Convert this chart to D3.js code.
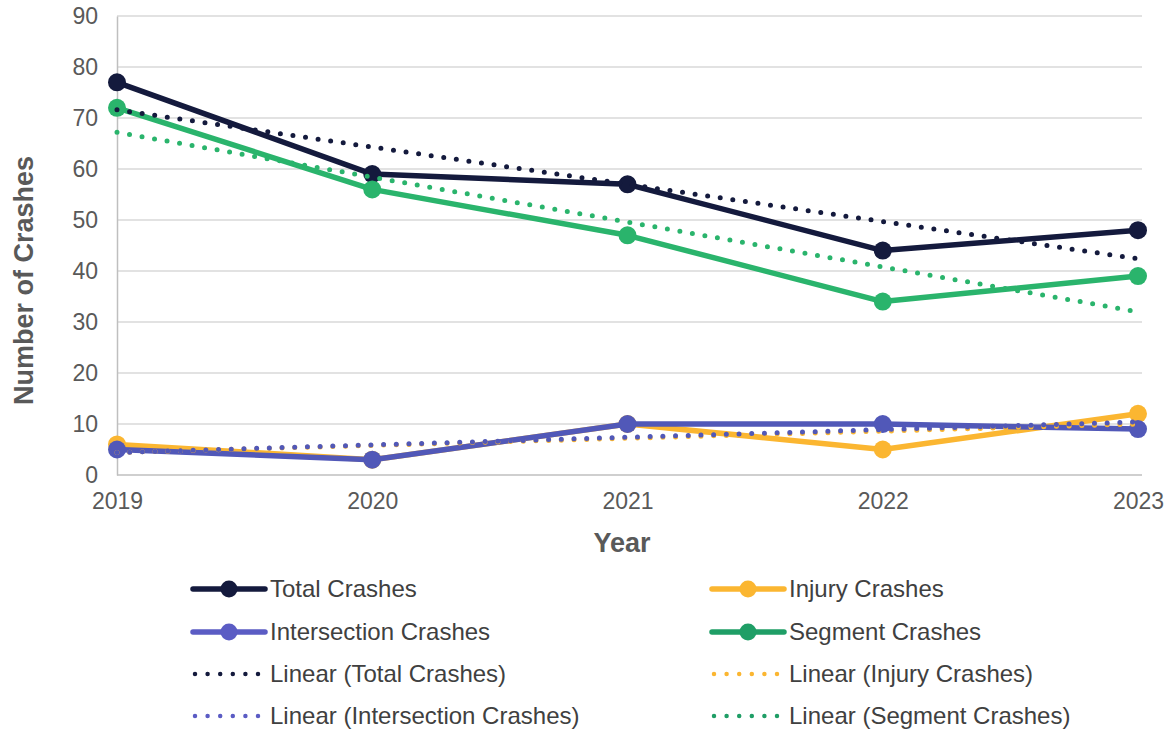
<!DOCTYPE html>
<html>
<head>
<meta charset="utf-8">
<script src="https://cdn.jsdelivr.net/npm/d3@7"></script>
<style>
    body { margin: 0; background: #fff; }
    svg { font-family: "Liberation Sans", Arial, sans-serif; }
</style>
</head>
<body>
<svg id="chart"></svg>
<script>
// Data
const years = [2019, 2020, 2021, 2022, 2023];
const totalCrashes = [77, 59, 57, 44, 48];
const injuryCrashes = [6, 3, 10, 5, 12];
const intersectionCrashes = [5, 3, 10, 10, 9];
const segmentCrashes = [72, 56, 47, 34, 39];
const yTicks = [0, 10, 20, 30, 40, 50, 60, 70, 80, 90];

const seriesNames = ["Total Crashes", "Injury Crashes", "Intersection Crashes", "Segment Crashes"];
const seriesValues = [totalCrashes, injuryCrashes, intersectionCrashes, segmentCrashes];
const seriesColours = ["#141a3d", "#fbb631", "#5158b8", "#2ab46c"];
const legendColours = ["#141a3d", "#fbb631", "#5b5cc4", "#1f9e66"];

const series = seriesNames.map((name, i) => ({name, values: seriesValues[i], colour: seriesColours[i], legendColour: legendColours[i]}));

const config = {
    width: 1172,
    height: 731,
    margin: {top: 16, right: 32, bottom: 256, left: 117}
};

const svg = d3.select("#chart")
    .attr("width", config.width)
    .attr("height", config.height);

const innerW = config.width - config.margin.left - config.margin.right;
const innerH = config.height - config.margin.top - config.margin.bottom;

const x = d3.scalePoint().domain(years).range([0, innerW - 2]);
const y = d3.scaleLinear().domain([0, 90]).range([innerH, 0]);

const chart = svg.append("g")
    .attr("transform", `translate(${config.margin.left},${config.margin.top})`);

// gridlines
chart.append("g")
    .selectAll("line")
    .data(yTicks.filter(d => d > 0))
    .join("line")
        .attr("x1", 0)
        .attr("x2", innerW + 2)
        .attr("y1", d => y(d))
        .attr("y2", d => y(d))
        .attr("stroke", "#d9d9d9")
        .attr("stroke-width", 1.5);

// y axis
const yAxis = chart.append("g")
    .call(d3.axisLeft(y).tickValues(yTicks).tickSize(0).tickPadding(19));
yAxis.select(".domain").attr("stroke", "#bfbfbf").attr("stroke-width", 1.5);
yAxis.selectAll("text").attr("font-size", 23).attr("fill", "#595959");

// x axis
const xAxis = chart.append("g")
    .attr("transform", `translate(0,${innerH})`)
    .call(d3.axisBottom(x).tickSize(0).tickPadding(18));
xAxis.select(".domain").attr("stroke", "#bfbfbf").attr("stroke-width", 1.5)
    .attr("d", `M0,0H${innerW + 2}`);
xAxis.selectAll("text").attr("font-size", 23).attr("fill", "#595959");

// axis titles
svg.append("text")
    .attr("transform", `translate(33,${config.margin.top + innerH / 2 + 35}) rotate(-90)`)
    .attr("text-anchor", "middle")
    .attr("font-size", 27)
    .attr("font-weight", "bold")
    .attr("fill", "#595959")
    .text("Number of Crashes");

svg.append("text")
    .attr("x", 622)
    .attr("y", 552)
    .attr("text-anchor", "middle")
    .attr("font-size", 27)
    .attr("font-weight", "bold")
    .attr("fill", "#595959")
    .text("Year");

const line = d3.line()
    .x((d, i) => x(years[i]))
    .y(d => y(d));

// series lines and markers
series.forEach(s => {
    chart.append("path")
        .datum(s.values)
        .attr("d", line)
        .attr("fill", "none")
        .attr("stroke", s.colour)
        .attr("stroke-width", 5.5)
        .attr("stroke-linejoin", "round");
    chart.append("g")
        .selectAll("circle")
        .data(s.values)
        .join("circle")
            .attr("cx", (d, i) => x(years[i]))
            .attr("cy", d => y(d))
            .attr("r", 9)
            .attr("fill", s.colour);
});

// least squares trendline, same as the spreadsheet's "Linear" trendline
function trend(values) {
    const idx = values.map((d, i) => i);
    const mx = d3.mean(idx), my = d3.mean(values);
    const slope = d3.sum(idx, i => (i - mx) * (values[i] - my)) / d3.sum(idx, i => (i - mx) ** 2);
    const icpt = my - slope * mx;
    return [icpt, icpt + slope * (values.length - 1)];
}

series.forEach(s => {
    const [a, b] = trend(s.values);
    chart.append("line")
        .attr("x1", x(years[0]))
        .attr("y1", y(a))
        .attr("x2", x(years[years.length - 1]))
        .attr("y2", y(b))
        .attr("stroke", s.colour)
        .attr("stroke-width", 5)
        .attr("stroke-linecap", "round")
        .attr("stroke-dasharray", "0 12.7");
});

// legend
const legendItems = [
    {s: series[0], trend: false, col: 0, row: 0},
    {s: series[1], trend: false, col: 1, row: 0},
    {s: series[2], trend: false, col: 0, row: 1},
    {s: series[3], trend: false, col: 1, row: 1},
    {s: series[0], trend: true, col: 0, row: 2},
    {s: series[1], trend: true, col: 1, row: 2},
    {s: series[2], trend: true, col: 0, row: 3},
    {s: series[3], trend: true, col: 1, row: 3}
];
const colX = [193, 712];
const rowY = [589, 632, 674, 716];

const legend = svg.append("g");
legendItems.forEach(item => {
    const g = legend.append("g")
        .attr("transform", `translate(${colX[item.col]},${rowY[item.row]})`);
    if (item.trend) {
        g.append("line")
            .attr("x1", 2).attr("x2", 72)
            .attr("stroke", item.s.legendColour)
            .attr("stroke-width", 4.5)
            .attr("stroke-linecap", "round")
            .attr("stroke-dasharray", "0 12.6");
    } else {
        g.append("line")
            .attr("x1", 0).attr("x2", 72)
            .attr("stroke", item.s.legendColour)
            .attr("stroke-width", 5.5)
            .attr("stroke-linecap", "round");
        g.append("circle")
            .attr("cx", 36).attr("r", 8.5)
            .attr("fill", item.s.legendColour);
    }
    g.append("text")
        .attr("x", 77)
        .attr("y", 8)
        .attr("font-size", 24)
        .attr("fill", "#404040")
        .text(item.trend ? `Linear (${item.s.name})` : item.s.name);
});
</script>
</body>
</html>
